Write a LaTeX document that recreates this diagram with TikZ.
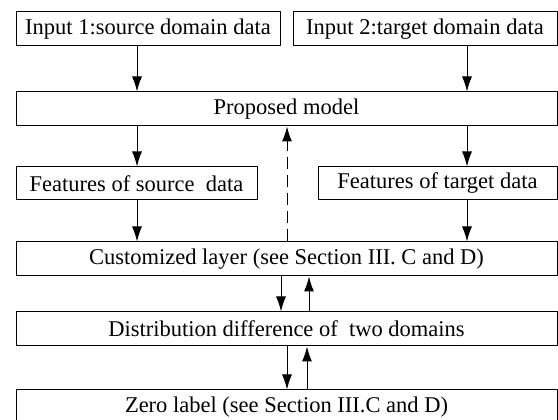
\documentclass[tikz,border=0pt]{standalone}
\usepackage{fontspec}
\setmainfont{Liberation Serif}
\usetikzlibrary{arrows.meta}
\tikzset{box/.style={draw,line width=1bp,inner sep=0pt,minimum height=34bp,font=\fontsize{22.5bp}{26bp}\selectfont}}
\begin{document}
\begin{tikzpicture}[>={Latex[length=15bp,width=10bp]},line join=bevel,line width=1bp]
\useasboundingbox (0bp,0bp) rectangle (558bp,420bp);
%%
\node (input_1) at (148bp,391bp) [box,minimum width=264bp] {Input 1:source domain data};
  \node (input_2) at (425bp,391bp) [box,minimum width=264bp] {Input 2:target domain data};
  \node (model) at (286.5bp,311bp) [box,minimum width=541bp] {Proposed model};
  \node (feat_src) at (136.5bp,236.5bp) [box,minimum width=241bp,minimum height=33bp] {Features of source\ \ data};
  \node (feat_tgt) at (437.5bp,236.5bp) [box,minimum width=239bp,minimum height=33bp] {Features of target data};
  \node (custom) at (286.5bp,161bp) [box,minimum width=541bp] {Customized layer (see Section III. C and D)};
  \node (dist) at (286.5bp,91bp) [box,minimum width=541bp] {Distribution difference of\ \ two domains};
  \node (zero) at (286.5bp,13bp) [box,minimum width=541bp] {Zero label (see Section III.C and D)};
%
\coordinate (col_l) at (137bp,0bp);
  \coordinate (col_r) at (467bp,0bp);
  \coordinate (col_back) at (287bp,0bp);
  \coordinate (col_a) at (281bp,0bp);
  \coordinate (col_b) at (309bp,0bp);
  \coordinate (col_c) at (287bp,0bp);
  \coordinate (col_d) at (307bp,0bp);
%
\draw [black,->] (input_1.south -| col_l) -- (model.north -| col_l);
  \draw [black,->] (input_2.south -| col_r) -- (model.north -| col_r);
  \draw [black,->] (model.south -| col_l) -- (feat_src.north -| col_l);
  \draw [black,->] (model.south -| col_r) -- (feat_tgt.north -| col_r);
  \draw [black,->] (feat_src.south -| col_l) -- (custom.north -| col_l);
  \draw [black,->] (feat_tgt.south -| col_r) -- (custom.north -| col_r);
  \draw [black,->,dash pattern=on 12bp off 6bp] (custom.north -| col_back) -- (model.south -| col_back);
  \draw [black,->] (custom.south -| col_a) -- (dist.north -| col_a);
  \draw [black,->] (dist.north -| col_b) -- (custom.south -| col_b);
  \draw [black,->] (dist.south -| col_c) -- (zero.north -| col_c);
  \draw [black,->] (zero.north -| col_d) -- (dist.south -| col_d);
%
\end{tikzpicture}
\end{document}
